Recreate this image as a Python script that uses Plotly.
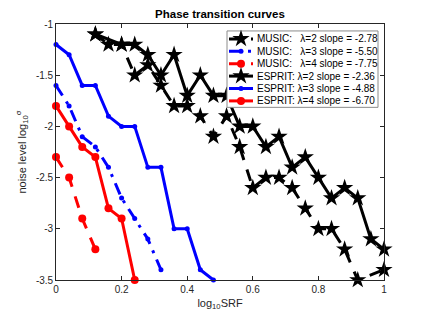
import plotly.graph_objects as go

# ---- data ----
x_music2 = [0.12, 0.16, 0.20, 0.24, 0.28, 0.32, 0.36, 0.40, 0.44, 0.48, 0.52, 0.56, 0.60, 0.64, 0.68, 0.72, 0.76, 0.80, 0.84, 0.88, 0.92, 1.00]
y_music2 = [-1.1, -1.2, -1.2, -1.5, -1.4, -1.6, -1.8, -1.8, -1.9, -2.1, -1.9, -2.2, -2.6, -2.5, -2.5, -2.6, -2.8, -3.0, -3.0, -3.2, -3.5, -3.4]

x_music3 = [0.00, 0.04, 0.08, 0.12, 0.16, 0.20, 0.24, 0.28, 0.32]
y_music3 = [-1.6, -1.8, -2.1, -2.2, -2.4, -2.7, -2.9, -3.1, -3.4]

x_music4 = [0.00, 0.04, 0.08, 0.12]
y_music4 = [-2.3, -2.5, -2.9, -3.2]

x_esprit2 = [0.12, 0.20, 0.24, 0.28, 0.32, 0.36, 0.40, 0.44, 0.48, 0.52, 0.56, 0.60, 0.64, 0.68, 0.72, 0.76, 0.80, 0.84, 0.88, 0.92, 0.96, 1.00]
y_esprit2 = [-1.1, -1.2, -1.2, -1.3, -1.5, -1.3, -1.7, -1.5, -1.7, -1.7, -2.0, -2.0, -2.2, -2.1, -2.4, -2.3, -2.5, -2.7, -2.6, -2.7, -3.1, -3.2]

x_esprit3 = [0.00, 0.04, 0.08, 0.12, 0.16, 0.20, 0.24, 0.28, 0.32, 0.36, 0.40, 0.44, 0.48]
y_esprit3 = [-1.2, -1.3, -1.6, -1.6, -1.9, -2.0, -2.0, -2.4, -2.4, -3.0, -3.0, -3.4, -3.5]

x_esprit4 = [0.00, 0.04, 0.08, 0.12, 0.16, 0.20, 0.24]
y_esprit4 = [-1.8, -2.0, -2.2, -2.3, -2.8, -2.9, -3.5]

names = [
    "MUSIC:\u00a0\u00a0\u00a0λ=2 slope = -2.78",
    "MUSIC:\u00a0\u00a0\u00a0λ=3 slope = -5.50",
    "MUSIC:\u00a0\u00a0\u00a0λ=4 slope = -7.75",
    "ESPRIT: λ=2 slope = -2.36",
    "ESPRIT: λ=3 slope = -4.88",
    "ESPRIT: λ=4 slope = -6.70",
]

x_ticks = [0, 0.2, 0.4, 0.6, 0.8, 1]
y_ticks = [-1, -1.5, -2, -2.5, -3, -3.5]
y_tick_labels = ["-1", "-1.5", "-2", "-2.5", "-3", "-3.5"]

FONT = "Liberation Sans, Arial, Helvetica, sans-serif"
AXC = "#262626"

fig = go.Figure()

styles = [
    ("black", "12px,10px", "star", 13),
    ("blue", "12px,7px,3px,7px", "circle", 5),
    ("red", "12px,10px", "circle", 8),
    ("black", "solid", "star", 13),
    ("blue", "solid", "circle", 5),
    ("red", "solid", "circle", 8),
]
data = [(x_music2, y_music2), (x_music3, y_music3), (x_music4, y_music4),
        (x_esprit2, y_esprit2), (x_esprit3, y_esprit3), (x_esprit4, y_esprit4)]

for (xs, ys), nm, (col, dash, sym, sz) in zip(data, names, styles):
    fig.add_trace(go.Scatter(
        x=xs, y=ys, name=nm, mode="lines+markers", showlegend=False,
        line=dict(color=col, width=3, dash=dash),
        marker=dict(symbol=sym, size=sz, color=col, line=dict(width=0)),
        cliponaxis=False,
    ))

# ---- legend drawn on an overlay axis measured in pixels of the plot area ----
# plot area spans x 56..384 px, y 24..282 px
LX0, LX1, LY0, LY1 = 227, 378, 31, 108
fig.add_trace(go.Scatter(
    x=[LX0, LX1, LX1, LX0, LX0], y=[LY0, LY0, LY1, LY1, LY0],
    xaxis="x2", yaxis="y2", mode="lines", fill="toself", fillcolor="white",
    line=dict(color="#8c8c8c", width=1), showlegend=False, hoverinfo="skip",
))
row_y = [39, 51.5, 64, 76.5, 89, 101.5]
for i, (nm, (col, dash, sym, sz)) in enumerate(zip(names, styles)):
    yy = row_y[i]
    fig.add_trace(go.Scatter(
        x=[229, 253], y=[yy, yy], xaxis="x2", yaxis="y2", mode="lines",
        line=dict(color=col, width=3, dash=dash), showlegend=False, hoverinfo="skip",
    ))
    fig.add_trace(go.Scatter(
        x=[241], y=[yy], xaxis="x2", yaxis="y2", mode="markers",
        marker=dict(symbol=sym, size=sz, color=col, line=dict(width=0)),
        showlegend=False, hoverinfo="skip",
    ))
    fig.add_annotation(
        x=255, y=yy, xref="x2", yref="y2", text=nm, showarrow=False,
        xanchor="left", yanchor="middle",
        font=dict(family=FONT, size=10, color="black"),
    )

axis_common = dict(
    showline=True, linecolor=AXC, linewidth=0.6, mirror="ticks",
    ticks="inside", ticklen=4, tickcolor=AXC, tickwidth=0.6,
    showgrid=False, zeroline=False,
    tickfont=dict(family=FONT, size=10, color=AXC),
)

fig.update_layout(
    width=425, height=319,
    margin=dict(l=56, r=41, t=24, b=37),
    paper_bgcolor="white", plot_bgcolor="white",
    title=dict(text="<b>Phase transition curves</b>", x=0.5175, xanchor="center",
               y=1 - 14 / 319, yanchor="middle",
               font=dict(family=FONT, size=11.5, color="black")),
    xaxis=dict(range=[0, 1], tickvals=x_ticks, ticktext=[str(v) for v in x_ticks],
               title=dict(text="log<sub>10</sub>SRF", standoff=5,
                          font=dict(family=FONT, size=11, color=AXC)),
               **axis_common),
    yaxis=dict(range=[-3.5, -1], tickvals=y_ticks, ticktext=y_tick_labels,
               title=dict(text="noise level log<sub>10</sub><sup>σ</sup>", standoff=7,
                          font=dict(family=FONT, size=11, color=AXC)),
               **axis_common),
    xaxis2=dict(range=[56, 384], overlaying="x", visible=False, fixedrange=True),
    yaxis2=dict(range=[282, 24], overlaying="y", visible=False, fixedrange=True),
    showlegend=False,
)

fig.write_html(
    "out.html",
    config={"displayModeBar": False},
    post_script="document.body.style.margin='0';document.body.style.overflow='hidden';",
)
